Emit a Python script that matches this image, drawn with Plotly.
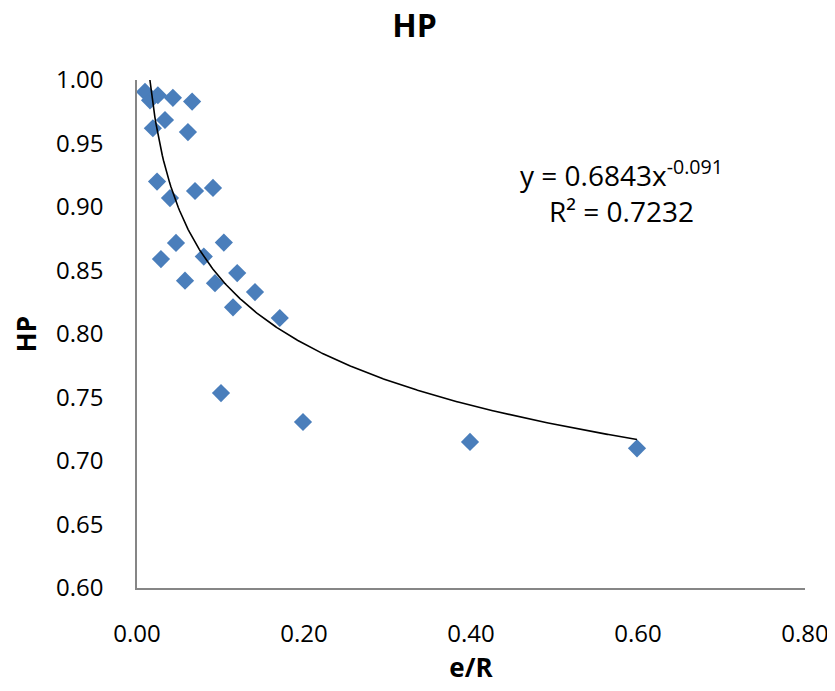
import numpy as np
import plotly.graph_objects as go

# Data
e_over_R = [0.0096, 0.0156, 0.025, 0.043, 0.066, 0.0335, 0.019, 0.061,
            0.024, 0.0395, 0.0695, 0.091, 0.0467, 0.0287, 0.080, 0.104,
            0.0575, 0.0934, 0.120, 0.1413, 0.115, 0.171, 0.1006, 0.1988,
            0.3988, 0.5988]
hp = [0.9906, 0.984, 0.988, 0.986, 0.983, 0.9685, 0.962, 0.959,
      0.920, 0.907, 0.9126, 0.915, 0.8717, 0.859, 0.861, 0.872,
      0.842, 0.840, 0.848, 0.833, 0.821, 0.8126, 0.7535, 0.7307,
      0.715, 0.710]

# Power trendline coefficients (as displayed)
coef_a = 0.6843
coef_b = -0.091
r2 = 0.7232

x_tick_vals = [0.0, 0.2, 0.4, 0.6, 0.8]
y_tick_vals = [0.60, 0.65, 0.70, 0.75, 0.80, 0.85, 0.90, 0.95, 1.00]

xs = np.linspace(min(e_over_R), max(e_over_R), 400)
ys = coef_a * xs ** coef_b

FONT = "Open Sans"

fig = go.Figure()
fig.add_trace(go.Scatter(
    x=e_over_R, y=hp, mode="markers",
    marker=dict(symbol="diamond", size=14, color="#4A7EBB",
                line=dict(width=0)),
    showlegend=False,
))
fig.add_trace(go.Scatter(
    x=xs, y=ys, mode="lines",
    line=dict(color="black", width=1.6),
    showlegend=False, hoverinfo="skip",
))

fig.add_annotation(
    x=0.580, y=0.9126, xref="x", yref="y",
    text=f"y = {coef_a}x<sup>{coef_b}</sup><br>R² = {r2}",
    showarrow=False, align="center",
    font=dict(family=FONT, size=28, color="black"),
)

# page body has an 8px margin, so the figure is sized/offset to compensate
fig.update_layout(
    width=827, height=683,
    margin=dict(l=129, r=30, t=72, b=103),
    paper_bgcolor="white", plot_bgcolor="white",
    title=dict(text="<b>HP</b>", x=0.4915, xanchor="center", y=0.974,
               yanchor="middle", font=dict(family=FONT, size=32, color="black")),
    font=dict(family=FONT, color="black"),
)
fig.update_xaxes(
    range=[0, 0.8], tickvals=x_tick_vals, tickformat=".2f",
    showgrid=False, zeroline=False, automargin=False,
    showline=True, linecolor="#868686", linewidth=1.5,
    ticks="", ticklabelstandoff=23,
    tickfont=dict(family=FONT, size=24, color="black"),
    title=dict(text="<b>e/R</b>", font=dict(family=FONT, size=26, color="black"),
               standoff=1),
)
fig.update_yaxes(
    range=[0.6, 1.0], tickvals=y_tick_vals, tickformat=".2f",
    showgrid=False, zeroline=False, automargin=False,
    showline=True, linecolor="#868686", linewidth=1.5,
    ticks="", ticklabelstandoff=27,
    tickfont=dict(family=FONT, size=24, color="black"),
    title=dict(text="<b>HP</b>", font=dict(family=FONT, size=26, color="black"),
               standoff=20),
)

fig.write_html("out.html")
